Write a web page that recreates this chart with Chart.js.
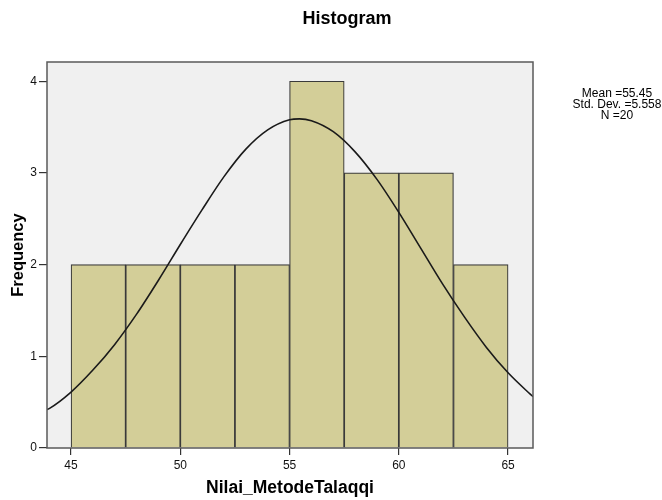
<!DOCTYPE html>
<html>
<head>
<meta charset="utf-8">
<script src="https://cdn.jsdelivr.net/npm/chart.js@4"></script>
<style>
html,body{margin:0;padding:0;background:#fff;}
#wrap{width:662px;height:500px;}
</style>
</head>
<body>
<div id="wrap"><canvas id="c" width="662" height="500"></canvas></div>
<script>
// ---- data ----
const binStarts = [45, 47.5, 50, 52.5, 55, 57.5, 60, 62.5];
const binWidth = 2.5;
const frequencies = [2, 2, 2, 2, 4, 3, 3, 2];
const curveX = [43.9, 44, 45, 46, 47, 48, 49, 50, 51, 52, 53, 54, 55, 55.45, 56, 57, 58, 59, 60, 61, 62, 63, 64, 65, 66, 66.14];
const curveY = [0.42, 0.43, 0.61, 0.85, 1.13, 1.46, 1.83, 2.22, 2.60, 2.96, 3.26, 3.47, 3.58, 3.59, 3.57, 3.45, 3.23, 2.93, 2.57, 2.18, 1.79, 1.43, 1.10, 0.82, 0.59, 0.56];
const xTicks = [45, 50, 55, 60, 65];
const yTicks = [0, 1, 2, 3, 4];
const statsLines = ['Mean =55.45', 'Std. Dev. =5.558', 'N =20'];
const titleText = 'Histogram';
const xTitle = 'Nilai_MetodeTalaqqi';
const yTitle = 'Frequency';

const barData = binStarts.map((s, i) => ({x: s + binWidth / 2, y: frequencies[i]}));
const lineData = curveX.map((x, i) => ({x: x, y: curveY[i]}));

const FONT = "'Liberation Sans', Arial, sans-serif";

const framePlugin = {
  id: 'frame',
  beforeDatasetsDraw(chart) {
    const {ctx, chartArea: a} = chart;
    ctx.save();
    ctx.fillStyle = '#f0f0f0';
    ctx.fillRect(a.left, a.top, a.right - a.left, a.bottom - a.top);
    ctx.restore();
  },
  afterDatasetsDraw(chart) {
    const {ctx, chartArea: a} = chart;
    ctx.save();
    ctx.strokeStyle = '#5a5a5a';
    ctx.lineWidth = 1.5;
    ctx.strokeRect(a.left, a.top, a.right - a.left, a.bottom - a.top);
    ctx.restore();
  },
  afterDraw(chart) {
    const {ctx} = chart;
    ctx.save();
    ctx.fillStyle = '#000';
    ctx.textAlign = 'center';
    ctx.textBaseline = 'middle';
    ctx.font = 'bold 18px ' + FONT;
    ctx.fillText(titleText, 347, 19);
    ctx.font = '12px ' + FONT;
    statsLines.forEach((t, i) => ctx.fillText(t, 617, 94 + i * 10.8));
    ctx.restore();
  }
};

new Chart(document.getElementById('c'), {
  type: 'bar',
  data: {
    datasets: [
      {
        type: 'line',
        data: lineData,
        borderColor: '#1a1a1a',
        borderWidth: 1.6,
        pointRadius: 0,
        fill: false,
        cubicInterpolationMode: 'monotone',
        order: 0
      },
      {
        type: 'bar',
        data: barData,
        backgroundColor: '#d3ce98',
        borderColor: '#3a3a3a',
        borderWidth: 1.2,
        barPercentage: 1,
        categoryPercentage: 1,
        order: 1
      }
    ]
  },
  options: {
    responsive: false,
    animation: false,
    devicePixelRatio: 1,
    layout: {padding: {top: 62, right: 129, left: 0, bottom: 0}},
    plugins: {legend: {display: false}, tooltip: {enabled: false}, title: {display: false}},
    scales: {
      x: {
        type: 'linear',
        min: 43.9,
        max: 66.14,
        offset: false,
        afterFit(s) { s.height = 52; },
        afterBuildTicks(s) { s.ticks = xTicks.map(v => ({value: v})); },
        grid: {offset: false, drawOnChartArea: false, drawTicks: true, tickLength: 7, color: '#333', lineWidth: 1.2},
        border: {display: false},
        ticks: {font: {family: FONT, size: 12}, color: '#111', padding: 3, maxRotation: 0, autoSkip: false},
        title: {display: true, text: xTitle, font: {family: FONT, size: 17.5, weight: 'bold'}, color: '#000', padding: {top: 0, bottom: 1}}
      },
      y: {
        min: 0,
        max: 4.21,
        afterFit(s) { s.width = 47; },
        afterBuildTicks(s) { s.ticks = yTicks.map(v => ({value: v})); },
        grid: {offset: false, drawOnChartArea: false, drawTicks: true, tickLength: 8, color: '#333', lineWidth: 1.2},
        border: {display: false},
        ticks: {font: {family: FONT, size: 12}, color: '#111', padding: 2},
        title: {display: true, text: yTitle, font: {family: FONT, size: 16.5, weight: 'bold'}, color: '#000', padding: {top: 9, bottom: 0}}
      }
    }
  },
  plugins: [framePlugin]
});
</script>
</body>
</html>
